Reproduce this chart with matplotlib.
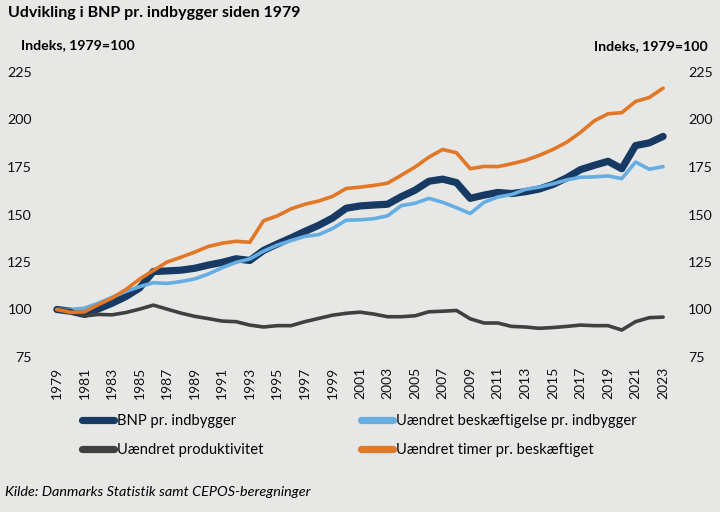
import matplotlib
matplotlib.use("Agg")
import matplotlib.pyplot as plt
from matplotlib.lines import Line2D

years = list(range(1979, 2024))

bnp = [100, 99.1, 97.4, 100.3, 103.3, 106.8, 111.3, 120, 120.3, 120.7,
       121.7, 123.4, 124.8, 126.7, 125.8, 131.1, 134.5, 137.7, 141.1, 144.3,
       148.1, 153.3, 154.5, 155, 155.4, 159.4, 162.8, 167.5, 168.6, 166.8,
       158.5, 160.2, 161.6, 161, 162, 163.4, 165.8, 169.3, 173.6, 175.9,
       178, 174.1, 186.3, 187.7, 191.1]

besk = [100, 100, 100.7, 103.3, 106.4, 109.5, 112, 114.1, 113.7, 114.7,
        116.1, 118.7, 122, 124.8, 126.6, 130.7, 133.9, 136.3, 138.5, 139.4,
        142.6, 147, 147.2, 147.8, 149.3, 154.7, 155.9, 158.5, 156.4, 153.6,
        150.5, 156.4, 159.2, 160.5, 163.2, 164.4, 166.1, 168.2, 169.6, 169.8,
        170.3, 168.9, 177.6, 173.8, 175.2]

prod = [100, 99.5, 96.6, 97.4, 97.2, 98.4, 100.2, 102.3, 100.2, 98.1,
        96.4, 95.2, 93.9, 93.6, 91.8, 90.8, 91.5, 91.5, 93.6, 95.3,
        97, 98, 98.6, 97.6, 96.2, 96.2, 96.7, 98.8, 99.1, 99.5,
        95.1, 92.9, 92.9, 91.1, 90.8, 90.1, 90.5, 91.1, 91.8, 91.5,
        91.5, 89.2, 93.6, 95.7, 96]

timer = [100, 98.5, 98.8, 102.5, 106, 110.5, 116, 120.5, 125, 127.5,
         130.2, 133.2, 134.9, 135.9, 135.4, 146.7, 149.3, 153, 155.4, 157.1,
         159.5, 163.7, 164.4, 165.3, 166.5, 170.7, 175, 180.2, 184.2, 182.5,
         174.1, 175.3, 175.2, 176.7, 178.5, 181.1, 184.2, 188, 193.2, 199.3,
         203, 203.6, 209.5, 211.6, 216.5]

labels = ["BNP pr. indbygger", "Uændret beskæftigelse pr. indbygger",
          "Uændret produktivitet", "Uændret timer pr. beskæftiget"]
yticks = [75, 100, 125, 150, 175, 200, 225]
xticks = list(range(1979, 2024, 2))

title = "Udvikling i BNP pr. indbygger siden 1979"
axis_label = "Indeks, 1979=100"
source = "Kilde: Danmarks Statistik samt CEPOS-beregninger"

bg = "#e7e7e6"
c_bnp = "#163a64"
c_besk = "#66ade3"
c_prod = "#404040"
c_timer = "#e27826"

plt.rcParams['font.family'] = ['Lato', 'DejaVu Sans']

W, H = 720, 512
fig = plt.figure(figsize=(W / 100, H / 100), dpi=100, facecolor=bg)
ax = fig.add_axes([50 / W, 1 - 357 / H, 620 / W, (357 - 72) / H])
ax.set_facecolor(bg)

ax.plot(years, bnp, color=c_bnp, lw=5.2, solid_capstyle='round', solid_joinstyle='round')
ax.plot(years, besk, color=c_besk, lw=2.6, solid_capstyle='round', solid_joinstyle='round')
ax.plot(years, prod, color=c_prod, lw=2.6, solid_capstyle='round', solid_joinstyle='round')
ax.plot(years, timer, color=c_timer, lw=2.6, solid_capstyle='round', solid_joinstyle='round')

ax.set_xlim(1978.5, 2023.5)
ax.set_ylim(75, 225)
ax.set_yticks(yticks)
ax.set_xticks(xticks)
ax.set_xticklabels([str(x) for x in xticks], rotation=90, fontsize=10, color="#111111")
ax.tick_params(axis='x', length=0, pad=7)
ax.tick_params(axis='y', length=0, pad=13, labelsize=10.3, labelcolor="#111111",
               left=False, right=False, labelleft=True, labelright=True)
for s in ax.spines.values():
    s.set_visible(False)
ax.axhline(75, color="#d4d4d4", lw=1.0, zorder=0)

fig.text(8 / W, 1 - 13 / H, title, fontsize=11.5, fontweight='bold', va='center', ha='left')
fig.text(21 / W, 1 - 45 / H, axis_label, fontsize=10.2, fontweight='bold', va='center', ha='left')
fig.text(708 / W, 1 - 46 / H, axis_label, fontsize=10.2, fontweight='bold', va='center', ha='right')
fig.text(5 / W, 1 - 492 / H, source, fontsize=10.4, style='italic', va='center', ha='left')

h1 = [Line2D([0], [0], color=c_bnp, lw=5.2, solid_capstyle='round'),
      Line2D([0], [0], color=c_prod, lw=5.2, solid_capstyle='round')]
h2 = [Line2D([0], [0], color=c_besk, lw=5.2, solid_capstyle='round'),
      Line2D([0], [0], color=c_timer, lw=5.2, solid_capstyle='round')]

kw = dict(frameon=False, fontsize=10.6, handlelength=2.2, handletextpad=0.15,
          labelspacing=1.0, borderaxespad=0, borderpad=0)
fig.legend(h1, [labels[0], labels[2]], loc='upper left',
           bbox_to_anchor=(82 / W, 1 - 414 / H), **kw)
fig.legend(h2, [labels[1], labels[3]], loc='upper left',
           bbox_to_anchor=(361 / W, 1 - 414 / H), **kw)

fig.savefig("out.png", dpi=100, facecolor=bg)
